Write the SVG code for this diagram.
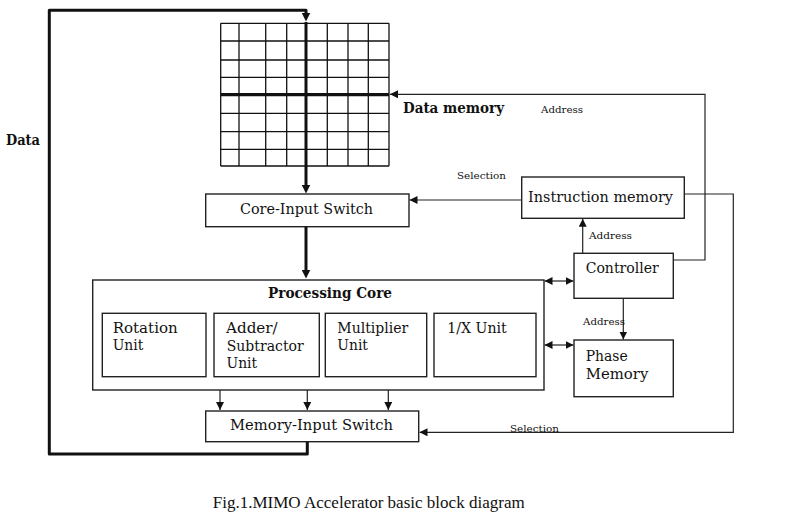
<svg xmlns="http://www.w3.org/2000/svg" width="785" height="518" viewBox="0 0 785 518">
<style>
.box{fill:#fff;stroke:#222;stroke-width:1.4}
.ln{fill:none;stroke:#222;stroke-width:1.2}
.bold{fill:none;stroke:#111;stroke-width:3;stroke-linejoin:round}
.g{stroke:#111;stroke-width:1.3}
.gt{stroke:#111;stroke-width:3.2}
text{font-family:"DejaVu Serif","Liberation Serif",serif;fill:#111;lengthAdjust:spacingAndGlyphs}
.t{font-size:15px}
.b{font-size:14px;font-weight:bold}
.s{font-size:10px}
.cap{font-family:"Liberation Serif","Times New Roman",serif;font-size:16px}
</style>
<defs>
<marker id="ah" viewBox="0 0 10 10" refX="10" refY="5" markerWidth="8" markerHeight="8" markerUnits="userSpaceOnUse" orient="auto-start-reverse"><path d="M0,0 L10,5 L0,10 z" fill="#111"/></marker>
<marker id="ahb" viewBox="0 0 10 10" refX="5" refY="5" markerWidth="9" markerHeight="9" markerUnits="userSpaceOnUse" orient="auto"><path d="M0,0 L10,5 L0,10 z" fill="#111"/></marker>
</defs>

<g id="data-memory">
<rect x="220.7" y="23.3" width="168.3" height="142.7" fill="#fff" stroke="none"/>
<g class="g">
<line x1="220.7" y1="23.3" x2="220.7" y2="166"/>
<line x1="239" y1="23.3" x2="239" y2="166"/>
<line x1="265.7" y1="23.3" x2="265.7" y2="166"/>
<line x1="286.7" y1="23.3" x2="286.7" y2="166"/>
<line x1="327.3" y1="23.3" x2="327.3" y2="166"/>
<line x1="348" y1="23.3" x2="348" y2="166"/>
<line x1="368.3" y1="23.3" x2="368.3" y2="166"/>
<line x1="389" y1="23.3" x2="389" y2="166"/>
<line x1="220.7" y1="23.3" x2="389" y2="23.3"/>
<line x1="220.7" y1="41" x2="389" y2="41"/>
<line x1="220.7" y1="60" x2="389" y2="60"/>
<line x1="220.7" y1="77.3" x2="389" y2="77.3"/>
<line x1="220.7" y1="113.3" x2="389" y2="113.3"/>
<line x1="220.7" y1="131.7" x2="389" y2="131.7"/>
<line x1="220.7" y1="149.3" x2="389" y2="149.3"/>
<line x1="220.7" y1="166" x2="389" y2="166"/>
</g>
<line class="gt" x1="220.7" y1="94.7" x2="389" y2="94.7"/>
<text class="b" x="403" y="112.5" textLength="101" lengthAdjust="spacingAndGlyphs">Data memory</text>
</g>

<g id="core-input-switch">
<rect class="box" x="205.7" y="194" width="203.3" height="32.7"/>
<text class="t" x="240" y="214" textLength="133" lengthAdjust="spacingAndGlyphs">Core-Input Switch</text>
</g>

<g id="instruction-memory">
<rect class="box" x="521.7" y="177" width="162.6" height="41.3"/>
<text class="t" x="528" y="201.5" textLength="145" lengthAdjust="spacingAndGlyphs">Instruction memory</text>
</g>

<g id="controller">
<rect class="box" x="574" y="253.3" width="99.3" height="45"/>
<text class="t" x="585.7" y="272.7" textLength="73" lengthAdjust="spacingAndGlyphs">Controller</text>
</g>

<g id="phase-memory">
<rect class="box" x="574" y="340" width="99.3" height="56.7"/>
<text class="t" x="585.7" y="360.7" textLength="42" lengthAdjust="spacingAndGlyphs">Phase</text>
<text class="t" x="585.7" y="378.5" textLength="62.6" lengthAdjust="spacingAndGlyphs">Memory</text>
</g>

<g id="processing-core">
<rect class="box" x="92.7" y="280" width="451.3" height="110"/>
<text class="b" x="268" y="298" textLength="124" lengthAdjust="spacingAndGlyphs">Processing Core</text>
</g>

<g id="rotation-unit">
<rect class="box" x="102.3" y="313.3" width="103.7" height="63.4"/>
<text class="t" x="112.7" y="333.3" textLength="65" lengthAdjust="spacingAndGlyphs">Rotation</text>
<text class="t" x="112.7" y="350" textLength="30.6" lengthAdjust="spacingAndGlyphs">Unit</text>
</g>

<g id="adder-subtractor-unit">
<rect class="box" x="214" y="313.3" width="105.3" height="63.4"/>
<text class="t" x="226" y="333.3" textLength="51.7" lengthAdjust="spacingAndGlyphs">Adder/</text>
<text class="t" x="226.7" y="351.2" textLength="77" lengthAdjust="spacingAndGlyphs">Subtractor</text>
<text class="t" x="226.5" y="368.3" textLength="30.6" lengthAdjust="spacingAndGlyphs">Unit</text>
</g>

<g id="multiplier-unit">
<rect class="box" x="325.3" y="313.3" width="101.4" height="63.4"/>
<text class="t" x="337.3" y="333.3" textLength="71" lengthAdjust="spacingAndGlyphs">Multiplier</text>
<text class="t" x="337.3" y="350" textLength="30.6" lengthAdjust="spacingAndGlyphs">Unit</text>
</g>

<g id="reciprocal-unit">
<rect class="box" x="434" y="313.3" width="102" height="63.4"/>
<text class="t" x="447.3" y="333.3" textLength="59.4" lengthAdjust="spacingAndGlyphs">1/X Unit</text>
</g>

<g id="memory-input-switch">
<rect class="box" x="205.7" y="411" width="213" height="30.7"/>
<text class="t" x="230" y="430" textLength="163" lengthAdjust="spacingAndGlyphs">Memory-Input Switch</text>
</g>

<g id="connectors">
<!-- data feedback loop -->
<path class="bold" d="M307.3,441.7 V454 H49.3 V10.3 H306 V17" marker-end="url(#ahb)"/>
<path class="bold" d="M306,22 V189" marker-end="url(#ahb)"/>
<path class="bold" d="M306,226.7 V274" marker-end="url(#ahb)"/>
<!-- core to memory-input switch -->
<path class="ln" d="M220,390 V410" marker-end="url(#ah)"/>
<path class="ln" d="M307.3,390 V410" marker-end="url(#ah)"/>
<path class="ln" d="M388.3,390 V410" marker-end="url(#ah)"/>
<!-- instruction memory to core-input switch -->
<path class="ln" d="M521.7,200 H409.5" marker-end="url(#ah)"/>
<!-- controller to instruction memory -->
<path class="ln" d="M582.7,253.3 V218.8" marker-end="url(#ah)"/>
<!-- controller to phase memory -->
<path class="ln" d="M623.3,298.3 V339.5" marker-end="url(#ah)"/>
<!-- controller address to data memory -->
<path class="ln" d="M673.3,260 H705 V94.3 H390" marker-end="url(#ah)"/>
<!-- instruction memory selection to memory-input switch -->
<path class="ln" d="M684.3,194 H733.3 V432.3 H419.5" marker-end="url(#ah)"/>
<!-- double arrows core <-> controller / phase memory -->
<path class="ln" d="M544.5,281 H573.5" marker-start="url(#ah)" marker-end="url(#ah)"/>
<path class="ln" d="M544.5,345 H573.5" marker-start="url(#ah)" marker-end="url(#ah)"/>
</g>

<g id="labels">
<text class="b" x="6" y="145" font-size="13" textLength="34" lengthAdjust="spacingAndGlyphs">Data</text>
<text class="s" x="541" y="112.5" textLength="42" lengthAdjust="spacingAndGlyphs">Address</text>
<text class="s" x="457" y="179" textLength="49" lengthAdjust="spacingAndGlyphs">Selection</text>
<text class="s" x="589" y="239" textLength="43" lengthAdjust="spacingAndGlyphs">Address</text>
<text class="s" x="583" y="325" textLength="42" lengthAdjust="spacingAndGlyphs">Address</text>
<text class="s" x="510" y="431.7" textLength="49" lengthAdjust="spacingAndGlyphs">Selection</text>
<text class="cap" x="212.7" y="508" textLength="312" lengthAdjust="spacingAndGlyphs">Fig.1.MIMO Accelerator basic block diagram</text>
</g>
</svg>
